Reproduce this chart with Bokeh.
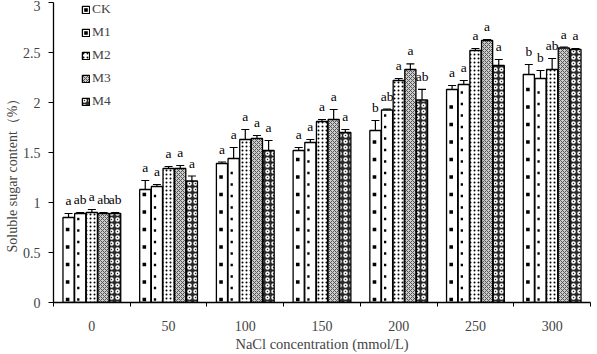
from bokeh.plotting import figure
from bokeh.models import (ColumnDataSource, FixedTicker, Whisker, TeeHead, Legend,
                          LegendItem, Range1d, Title)
from bokeh.core.properties import value
from bokeh.embed import file_html
from bokeh.resources import INLINE

# NaCl concentration groups (mmol/L)
conc = ["0", "50", "100", "150", "200", "250", "300"]
treatments = ["CK", "M1", "M2", "M3", "M4"]

# mean soluble sugar content (%)
ck = [0.85, 1.13, 1.39, 1.52, 1.72, 2.13, 2.28]
m1 = [0.89, 1.16, 1.44, 1.60, 1.925, 2.18, 2.24]
m2 = [0.90, 1.34, 1.63, 1.81, 2.22, 2.52, 2.33]
m3 = [0.89, 1.34, 1.64, 1.83, 2.33, 2.62, 2.545]
m4 = [0.89, 1.215, 1.52, 1.70, 2.025, 2.37, 2.53]

# standard errors
ck_err = [0.04, 0.09, 0.015, 0.03, 0.10, 0.04, 0.10]
m1_err = [0.01, 0.02, 0.11, 0.03, 0.01, 0.04, 0.08]
m2_err = [0.03, 0.02, 0.10, 0.02, 0.02, 0.02, 0.11]
m3_err = [0.01, 0.03, 0.03, 0.10, 0.057, 0.01, 0.01]
m4_err = [0.01, 0.05, 0.10, 0.03, 0.107, 0.06, 0.01]

# significance letters
ck_sig = ["a", "a", "a", "a", "b", "a", "b"]
m1_sig = ["ab", "a", "a", "a", "ab", "a", "b"]
m2_sig = ["a", "a", "a", "a", "a", "a", "ab"]
m3_sig = ["ab", "a", "a", "a", "a", "a", "a"]
m4_sig = ["ab", "a", "a", "a", "ab", "a", "a"]

means = [ck, m1, m2, m3, m4]
errs = [ck_err, m1_err, m2_err, m3_err, m4_err]
sigs = [ck_sig, m1_sig, m2_sig, m3_sig, m4_sig]

SERIF = "Liberation Serif"

# fill / hatch style per treatment (CK and M1 get sparse dot columns instead)
styles = [
    dict(fill_color="white"),
    dict(fill_color="white"),
    dict(fill_color="white", hatch_pattern="dot", hatch_color="black", hatch_scale=4, hatch_weight=1.4),
    dict(fill_color="#cccccc", hatch_pattern="diagonal_cross", hatch_color="#555555", hatch_scale=4, hatch_weight=1),
    dict(fill_color="#2a2a2a", hatch_pattern="ring", hatch_color="white", hatch_scale=6, hatch_weight=1.5),
]
# sparse dot fill for CK and M1: (vertical step in data units, marker size, x shift)
dot_fill = {0: (0.175, 3.6, -0.012), 1: (0.115, 2.3, -0.025)}

p = figure(width=597, height=354, output_backend="svg", toolbar_location=None,
           x_range=Range1d(0, 7), y_range=Range1d(0, 3))
p.min_border_left = 53
p.min_border_right = 7
p.min_border_top = 2
p.min_border_bottom = 51
p.outline_line_color = None
p.xgrid.visible = False
p.ygrid.visible = False
p.background_fill_color = "white"
p.border_fill_color = "white"

bar_w = 0.145
step = 0.152
offsets = [(-2 + k) * step for k in range(5)]
centers = [i + 0.5 for i in range(len(conc))]

items = []
for k, name in enumerate(treatments):
    xs = [c + offsets[k] for c in centers]
    tops = means[k]
    e = errs[k]
    src = ColumnDataSource(dict(
        x=xs, top=tops,
        upper=[t + d for t, d in zip(tops, e)],
        lower=[t - d for t, d in zip(tops, e)],
        label_y=[t + d + 0.055 for t, d in zip(tops, e)],
        sig=sigs[k],
    ))
    r = p.vbar(x="x", top="top", width=bar_w, bottom=0, source=src,
               line_color="black", line_width=1.3, **styles[k])
    renderers = [r]
    if k in dot_fill:
        dy, size, dx = dot_fill[k]
        px, py = [], []
        for x0, t in zip(xs, tops):
            y = 0.03
            while y < t - 0.04:
                px.append(x0 + dx)
                py.append(y)
                y += dy
        s = p.scatter(px, py, marker="square", size=size, fill_color="black", line_color=None)
        renderers.append(s)
    items.append(LegendItem(label=name, renderers=renderers))
    w = Whisker(base="x", upper="upper", lower="lower", source=src, dimension="height",
                line_color="black", line_width=1.2,
                upper_head=TeeHead(size=8, line_color="black", line_width=1.2),
                lower_head=TeeHead(size=8, line_color="black", line_width=1.2))
    p.add_layout(w)
    p.text(x="x", y="label_y", text="sig", source=src, text_align="center",
           text_baseline="bottom", text_font=value(SERIF), text_font_size="13.5px",
           text_color="black")

legend = Legend(items=items, location=(28, 193), orientation="vertical")
legend.background_fill_alpha = 0
legend.border_line_color = None
legend.padding = 0
legend.margin = 0
legend.spacing = 7
legend.glyph_width = 9
legend.glyph_height = 9
legend.label_height = 14
legend.label_standoff = 2
legend.label_text_font = SERIF
legend.label_text_font_size = "13.5px"
p.add_layout(legend, "center")

# x axis: boundary ticks as minor ticks, labels at group centres
p.xaxis.ticker = FixedTicker(ticks=centers, minor_ticks=list(range(0, 8)))
p.xaxis.major_label_overrides = {c: lab for c, lab in zip(centers, conc)}
p.xaxis.major_tick_out = 0
p.xaxis.major_tick_in = 0
p.xaxis.minor_tick_out = 4
p.xaxis.minor_tick_in = 0
p.xaxis.minor_tick_line_color = "black"
p.xaxis.axis_line_color = "black"
p.xaxis.axis_line_width = 1.3
p.xaxis.major_label_standoff = 14
p.xaxis.major_label_text_font = SERIF
p.xaxis.major_label_text_font_size = "14px"
p.xaxis.axis_label = "NaCl concentration (mmol/L)"
p.xaxis.axis_label_text_font = SERIF
p.xaxis.axis_label_text_font_size = "14.5px"
p.xaxis.axis_label_text_font_style = "normal"
p.xaxis.axis_label_standoff = 2

p.yaxis.ticker = FixedTicker(ticks=[0, 0.5, 1, 1.5, 2, 2.5, 3])
p.yaxis.major_label_overrides = {0: "0", 0.5: "0.5", 1: "1", 1.5: "1.5", 2: "2", 2.5: "2.5", 3: "3"}
p.yaxis.minor_tick_line_color = None
p.yaxis.major_tick_out = 5
p.yaxis.major_tick_in = 0
p.yaxis.major_tick_line_color = "black"
p.yaxis.axis_line_color = "black"
p.yaxis.axis_line_width = 1.3
p.yaxis.major_label_standoff = 8
p.yaxis.major_label_text_font = SERIF
p.yaxis.major_label_text_font_size = "14px"

# y-axis title in the left panel, starting a little above the frame bottom
ytitle = Title(text="Soluble sugar content（%）", align="left", offset=50,
               text_font=SERIF, text_font_size="14px", text_font_style="normal",
               standoff=0)
p.add_layout(ytitle, "left")

open("out.html", "w").write(file_html(p, INLINE))
